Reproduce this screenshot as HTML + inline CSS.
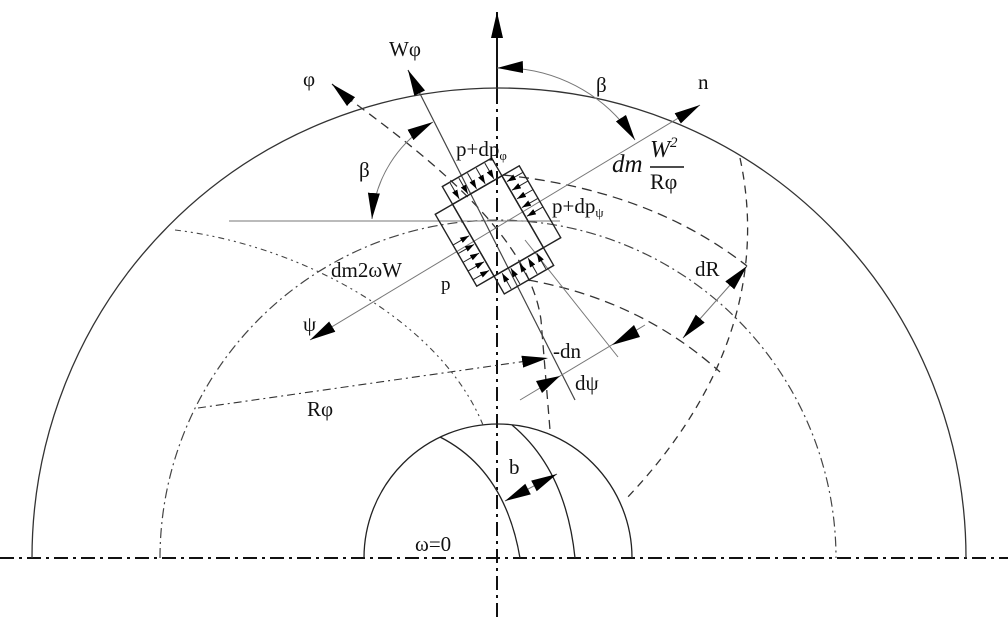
<!DOCTYPE html>
<html><head><meta charset="utf-8"><style>
html,body{margin:0;padding:0;background:#fff;}
svg{display:block;}
text{font-family:"Liberation Serif",serif;fill:#111;}
</style></head><body>
<svg width="1008" height="618" viewBox="0 0 1008 618" xmlns="http://www.w3.org/2000/svg">
<defs>
<marker id="a" markerUnits="userSpaceOnUse" markerWidth="28" markerHeight="14" refX="26" refY="6" orient="auto-start-reverse"><path d="M0,0 L26,6 L0,12 Z" fill="#000"/></marker>
<marker id="s" markerUnits="userSpaceOnUse" markerWidth="10" markerHeight="6" refX="9" refY="3" orient="auto"><path d="M0,0 L9,3 L0,6 Z" fill="#000"/></marker>
</defs>
<g fill="none">
<line x1="0" y1="558" x2="1008" y2="558" stroke="#111" stroke-width="2" stroke-dasharray="14,5,3,5"/>
<line x1="497" y1="90" x2="497" y2="618" stroke="#111" stroke-width="2" stroke-dasharray="14,5,3,5"/>
<line x1="497" y1="90" x2="497" y2="12" stroke="#111" stroke-width="2" marker-end="url(#a)"/>
<path d="M32,558 A467,470 0 0 1 966,558" stroke="#333" stroke-width="1.3"/>
<path d="M160,558 A337,337 0 0 1 836,558" stroke="#444" stroke-width="1.2" stroke-dasharray="10,4,2,4"/>
<path d="M364,558 A134,134 0 0 1 632,558" stroke="#222" stroke-width="1.3"/>
<path d="M440,437 Q505,470 520,558" stroke="#222" stroke-width="1.3"/>
<path d="M512,425 Q566,470 575,558" stroke="#222" stroke-width="1.3"/>
<path d="M503,175 Q650,190 747,266" stroke="#333" stroke-width="1.3" stroke-dasharray="10,6"/>
<path d="M528,280 Q640,300 720,372" stroke="#333" stroke-width="1.3" stroke-dasharray="10,6"/>
<path d="M740,158 C762,260 740,380 625,500" stroke="#333" stroke-width="1.3" stroke-dasharray="8,6"/>
<path d="M345,96 C440,165 530,240 541,320 L550,430" stroke="#333" stroke-width="1.3" stroke-dasharray="9,6"/>
<path d="M175,230 C300,245 440,320 483,425" stroke="#444" stroke-width="1.1" stroke-dasharray="6,4,2,4,2,4"/>
<line x1="198" y1="408" x2="548" y2="358" stroke="#333" stroke-width="1.1" stroke-dasharray="8,4,2,4" marker-end="url(#a)"/>
<line x1="229" y1="221" x2="560" y2="221" stroke="#777" stroke-width="1"/>
<line x1="700" y1="105" x2="310" y2="340" stroke="#777" stroke-width="1" marker-start="url(#a)" marker-end="url(#a)"/>
<line x1="575" y1="400" x2="408" y2="70" stroke="#444" stroke-width="1.2" marker-end="url(#a)"/>
<line x1="525" y1="240" x2="618" y2="357" stroke="#777" stroke-width="1"/>
<line x1="345" y1="96" x2="332" y2="84" stroke="#333" stroke-width="1.2" marker-end="url(#a)"/>
<path d="M635,140 A157,157 0 0 0 497,68" stroke="#777" stroke-width="1" marker-start="url(#a)" marker-end="url(#a)"/>
<path d="M433,122 A122,122 0 0 0 372,219" stroke="#777" stroke-width="1" marker-start="url(#a)" marker-end="url(#a)"/>
<line x1="683" y1="338" x2="747" y2="266" stroke="#777" stroke-width="1" marker-start="url(#a)" marker-end="url(#a)"/>
<line x1="505" y1="501" x2="557" y2="474" stroke="#777" stroke-width="1" marker-start="url(#a)" marker-end="url(#a)"/>
<line x1="520" y1="400" x2="645" y2="325" stroke="#777" stroke-width="1"/>
<polygon points="560,376 536,381 542,393" fill="#000"/>
<polygon points="612,345 634,325 640,337" fill="#000"/>
<g transform="translate(498,226) rotate(-30)" stroke="#222" stroke-width="1.4">
<rect x="-28.5" y="-41.5" width="57" height="83"/>
<rect x="-28.5" y="-62" width="57" height="20.5"/>
<rect x="-28.5" y="41.5" width="57" height="20.5"/>
<rect x="28.5" y="-41.5" width="20" height="83"/>
<rect x="-48.5" y="-41.5" width="20" height="83"/>
<g stroke-width="1" marker-end="url(#s)">
<line x1="-20" y1="-61" x2="-20" y2="-43"/><line x1="-10" y1="-61" x2="-10" y2="-43"/><line x1="0" y1="-61" x2="0" y2="-43"/><line x1="10" y1="-61" x2="10" y2="-43"/><line x1="20" y1="-61" x2="20" y2="-43"/>
<line x1="-20" y1="61" x2="-20" y2="43"/><line x1="-10" y1="61" x2="-10" y2="43"/><line x1="0" y1="61" x2="0" y2="43"/><line x1="10" y1="61" x2="10" y2="43"/><line x1="20" y1="61" x2="20" y2="43"/>
<line x1="48" y1="-34" x2="30" y2="-34"/><line x1="48" y1="-24" x2="30" y2="-24"/><line x1="48" y1="-14" x2="30" y2="-14"/><line x1="48" y1="-4" x2="30" y2="-4"/><line x1="48" y1="6" x2="30" y2="6"/>
<line x1="-48" y1="34" x2="-30" y2="34"/><line x1="-48" y1="24" x2="-30" y2="24"/><line x1="-48" y1="14" x2="-30" y2="14"/><line x1="-48" y1="4" x2="-30" y2="4"/><line x1="-48" y1="-6" x2="-30" y2="-6"/>
</g>
</g>
</g>
<g font-size="21">
<text x="303" y="86">φ</text>
<text x="389" y="56">Wφ</text>
<text x="596" y="92">β</text>
<text x="698" y="89">n</text>
<text x="359" y="177">β</text>
<text x="456" y="156">p+dp<tspan font-size="13" dy="4">φ</tspan></text>
<text x="552" y="213">p+dp<tspan font-size="13" dy="4">ψ</tspan></text>
<text x="612" y="172" font-style="italic" font-size="25">dm</text>
<text x="650" y="157" font-style="italic" font-size="24">W<tspan font-size="15" dy="-10">2</tspan></text>
<line x1="650" y1="167" x2="684" y2="167" stroke="#111" stroke-width="1.4"/>
<text x="650" y="189" font-size="22">Rφ</text>
<text x="331" y="277">dm2ωW</text>
<text x="441" y="290" font-family="Liberation Sans,sans-serif" font-size="19">p</text>
<text x="303" y="331">ψ</text>
<text x="695" y="276">dR</text>
<text x="553" y="358">-dn</text>
<text x="575" y="390">dψ</text>
<text x="307" y="416">Rφ</text>
<text x="509" y="474">b</text>
<text x="415" y="551">ω=0</text>
</g>
</svg>
</body></html>
